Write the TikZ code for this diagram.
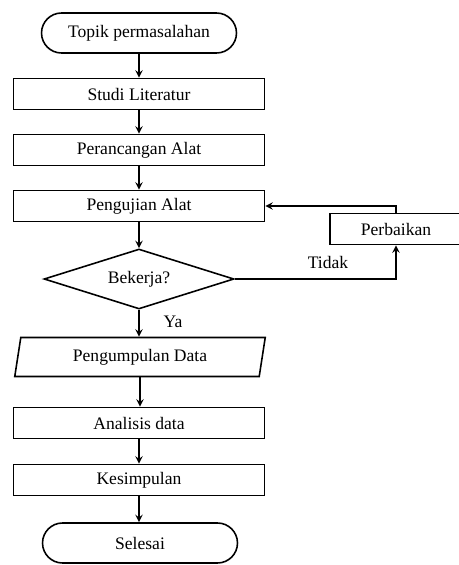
\documentclass[tikz,border=0pt]{standalone}
\usepackage{fontspec}
\setmainfont{Liberation Serif}
\usetikzlibrary{positioning,shapes.geometric}

\begin{document}
\begin{tikzpicture}[x=0.02cm, y=-0.02cm, >=stealth,
  font=\fontsize{10}{12}\selectfont,
  every block/.style={draw, line width=0.9pt, inner sep=0pt},
  terminal/.style={every block, rectangle, rounded corners=0.4cm,
    minimum width=3.9cm, minimum height=0.8cm},
  process/.style={every block, rectangle, minimum width=5.02cm, minimum height=0.62cm},
  decision/.style={every block, diamond, aspect=3.2, minimum width=3.8cm, minimum height=1.2cm},
  io/.style={every block, trapezium, trapezium stretches=true,
    trapezium left angle=78, trapezium right angle=102,
    minimum width=5.04cm, minimum height=0.78cm},
  line/.style={line width=0.9pt}]

\useasboundingbox (0,0) rectangle (458,565);

\node [terminal] (topik) at (139,33) {Topik permasalahan};

\foreach \n/\t/\y in {studi/Studi Literatur/94, rancang/Perancangan Alat/150, uji/Pengujian Alat/206}
  \node [process] (\n) at (139,\y) {\t};

\node [decision] (kerja) at (139,279) {Bekerja?};
\node [process, minimum width=2.64cm, minimum height=0.62cm] (perbaikan) at (396,229) {Perbaikan};

\node [io] (kumpul) at (140,357) {Pengumpulan Data};

\foreach \n/\t/\y in {analisis/Analisis data/423, simpul/Kesimpulan/480}
  \node [process] (\n) at (139,\y) {\t};

\node [terminal] (selesai) at (140,543) {Selesai};

% alur utama
\foreach \a/\b in {topik/studi, studi/rancang, rancang/uji, uji/kerja, kerja/kumpul, kumpul/analisis, analisis/simpul, simpul/selesai}
  \draw [line, ->] (\a.south) -- (\a.south |- \b.north);

% umpan balik
\draw [line, ->] (kerja.east) -| (perbaikan.south);
\draw [line, ->] (perbaikan.north) |- (uji.east);

\node (tidak) at (328,262) {Tidak};
\node (ya) at (173,322) {Ya};

\end{tikzpicture}
\end{document}
